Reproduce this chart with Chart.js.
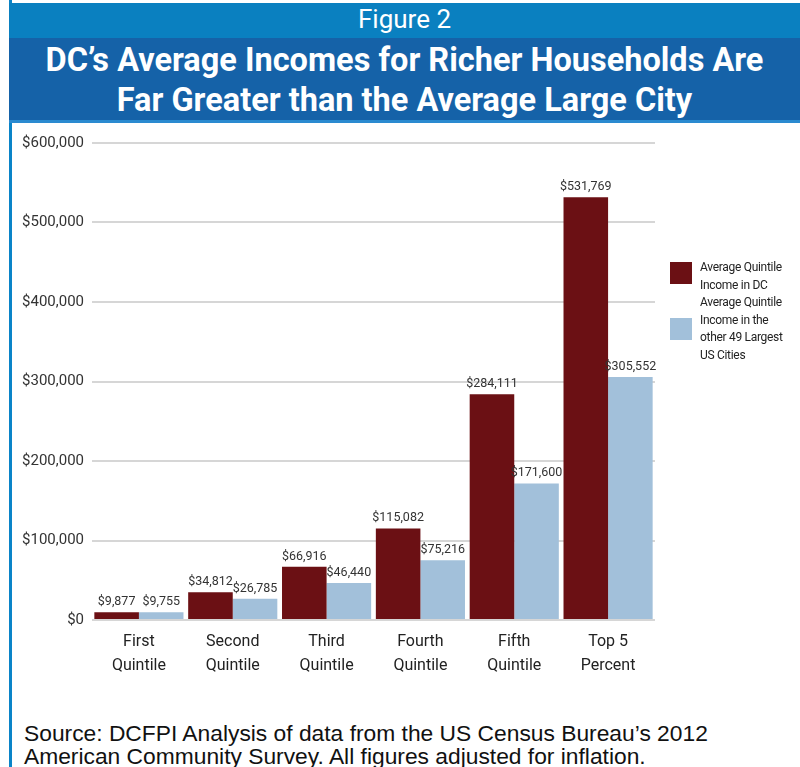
<!DOCTYPE html>
<html>
<head>
<meta charset="utf-8">
<script src="https://cdn.jsdelivr.net/npm/chart.js@4"></script>
<style>
  body { margin:0; background:#fff; }
  #wrap { position:relative; width:800px; height:767px; overflow:hidden; background:#fff; }
  #leftBar { position:absolute; left:9px; top:0; width:3px; height:767px; background:#0a84c8; }
  #figBand { position:absolute; left:9px; top:3px; width:791px; height:35px; background:#0a80c0;
    color:#fff; font:26px "Roboto", sans-serif; text-align:center; line-height:33px; }
  #titleBand { position:absolute; left:9px; top:38px; width:791px; height:85px; background:#1562a8;
    border-bottom:3px solid #2a8ad0;
    color:#fff; font:700 32.5px "Roboto", sans-serif; text-align:center; line-height:40px; padding-top:2px; box-sizing:border-box; }
  #chartBox { position:absolute; left:12px; top:126px; width:788px; height:570px; }
  #legend { position:absolute; left:670px; top:259px; font:12px "Roboto", sans-serif; letter-spacing:-0.3px; color:#222; }
  .item { position:relative; padding-left:30px; line-height:17.5px; }
  .sw { position:absolute; left:0; width:22px; height:22px; }
  #source { position:absolute; left:24px; top:722px; font:22.8px "Liberation Sans", sans-serif; color:#111; line-height:23px; }
</style>
</head>
<body>
<div id="wrap">
  <div id="leftBar"></div>
  <div id="figBand">Figure 2</div>
  <div id="titleBand">DC’s Average Incomes for Richer Households Are<br>Far Greater than the Average Large City</div>
  <div id="chartBox"><canvas id="c" width="788" height="570"></canvas></div>
  <div id="legend"></div>
  <div id="source">Source: DCFPI Analysis of data from the US Census Bureau’s 2012<br>American Community Survey. All figures adjusted for inflation.</div>
</div>
<script>
// ====== Data ======
const categories = [['First','Quintile'],['Second','Quintile'],['Third','Quintile'],['Fourth','Quintile'],['Fifth','Quintile'],['Top 5','Percent']];
const dcIncome = [9877, 34812, 66916, 115082, 284111, 531769];
const cityIncome = [9755, 26785, 46440, 75216, 171600, 305552];
const seriesNames = [['Average Quintile','Income in DC'], ['Average Quintile','Income in the','other 49 Largest','US Cities']];
const yTicks = [0, 100000, 200000, 300000, 400000, 500000, 600000];

const colors = ['#6b1014', '#a2c0da'];
const narrow = 'Roboto, sans-serif';
const money = v => '$' + v.toLocaleString('en-US');

// ====== Legend (HTML, multi-line) ======
const legendEl = document.getElementById('legend');
const swTops = [3, 24];
seriesNames.forEach((lines, i) => {
  const d = document.createElement('div');
  d.className = 'item';
  d.innerHTML = `<span class="sw" style="background:${colors[i]};top:${swTops[i]}px"></span>` + lines.join('<br>');
  legendEl.appendChild(d);
});

// ====== Value labels ======
const valueLabels = {
  id: 'valueLabels',
  afterDatasetsDraw(chart){
    const ctx = chart.ctx;
    ctx.save();
    ctx.font = '12.5px ' + narrow;
    ctx.fillStyle = '#333';
    ctx.textAlign = 'center';
    ctx.textBaseline = 'bottom';
    chart.data.datasets.forEach((ds, i) => {
      chart.getDatasetMeta(i).data.forEach((bar, j) => {
        ctx.fillText(money(ds.data[j]), bar.x, bar.y - 4);
      });
    });
    ctx.restore();
  }
};

new Chart(document.getElementById('c'), {
  type: 'bar',
  data: {
    labels: categories,
    datasets: [
      { label: seriesNames[0].join(' '), data: dcIncome, backgroundColor: colors[0] },
      { label: seriesNames[1].join(' '), data: cityIncome, backgroundColor: colors[1] }
    ]
  },
  options: {
    responsive: false,
    animation: false,
    devicePixelRatio: 1,
    layout: { padding: { top: 16, right: 145, bottom: 10, left: 0 } },
    datasets: { bar: { categoryPercentage: 0.95, barPercentage: 1.0 } },
    plugins: { legend: { display: false }, tooltip: { enabled: false } },
    scales: {
      x: {
        grid: { display: false },
        border: { display: false },
        ticks: { color: '#222', font: { family: narrow, size: 16, lineHeight: 1.5 }, padding: 2, maxRotation: 0 },
        afterFit: s => { s.height = 66; }
      },
      y: {
        min: 0, max: 600000,
        afterBuildTicks: s => { s.ticks = yTicks.map(v => ({ value: v })); },
        grid: { color: '#d6d6d6', lineWidth: 2, drawTicks: false },
        border: { display: false },
        ticks: { color: '#333', font: { family: narrow, size: 15 }, padding: 8, callback: v => money(v) },
        afterFit: s => { s.width = 80; }
      }
    }
  },
  plugins: [valueLabels]
});
</script>
</body>
</html>
